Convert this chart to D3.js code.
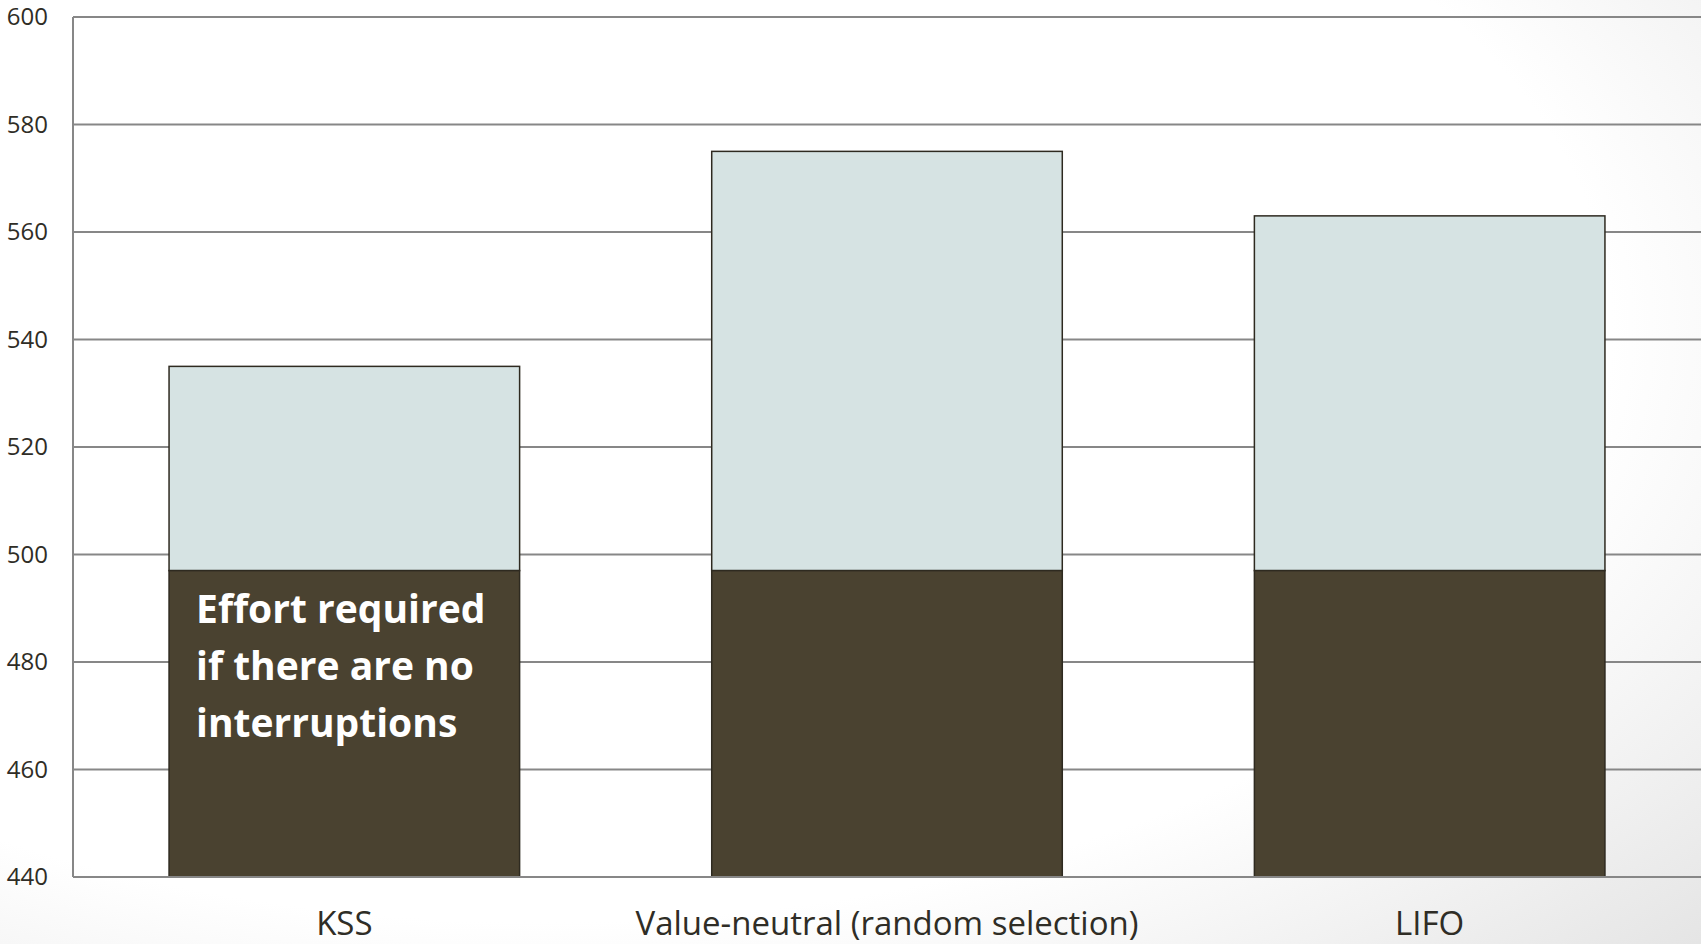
<!DOCTYPE html>
<html>
<head>
<meta charset="utf-8">
<script src="https://cdn.jsdelivr.net/npm/d3@7"></script>
<style>
  html, body { margin: 0; padding: 0; background: #fff; }
  svg { display: block; }
</style>
</head>
<body>
<svg id="chart" width="1701" height="944"></svg>
<script>
// Categories and stacked values (base effort + extra from interruptions)
const categories = ["KSS", "Value-neutral (random selection)", "LIFO"];
const baseEffort = [497, 497, 497];
const totalEffort = [535, 575, 563];
const yTicks = [440, 460, 480, 500, 520, 540, 560, 580, 600];
const annotationLines = ["Effort required", "if there are no", "interruptions"];

const W = 1701, H = 944;
const margin = { top: 17, right: 0, bottom: 67, left: 73 };
const font = "'Open Sans', Lato, sans-serif";

const svg = d3.select("#chart");

// soft slide-style vignette behind the chart
const defs = svg.append("defs");
const grad = defs.append("radialGradient")
  .attr("id", "bg").attr("cx", "32%").attr("cy", "35%").attr("r", "95%");
grad.append("stop").attr("offset", "0%").attr("stop-color", "#ffffff");
grad.append("stop").attr("offset", "66%").attr("stop-color", "#ffffff");
grad.append("stop").attr("offset", "100%").attr("stop-color", "#e4e4e4");
svg.append("rect").attr("width", W).attr("height", H).attr("fill", "url(#bg)");

const x = d3.scaleBand()
  .domain(categories)
  .range([margin.left, W - margin.right])
  .paddingInner(0.354)
  .paddingOuter(0.177);

const y = d3.scaleLinear()
  .domain([440, 600])
  .range([H - margin.bottom, margin.top]);

// horizontal gridlines
svg.append("g")
  .selectAll("line")
  .data(yTicks)
  .join("line")
  .attr("x1", margin.left)
  .attr("x2", W - margin.right)
  .attr("y1", d => y(d))
  .attr("y2", d => y(d))
  .attr("stroke", "#878787")
  .attr("stroke-width", 2);

// vertical axis line
svg.append("line")
  .attr("x1", margin.left).attr("x2", margin.left)
  .attr("y1", y(600)).attr("y2", y(440))
  .attr("stroke", "#878787").attr("stroke-width", 2);

// y tick labels
svg.append("g")
  .selectAll("text")
  .data(yTicks)
  .join("text")
  .attr("x", 48)
  .attr("y", d => y(d))
  .attr("dy", "0.35em")
  .attr("text-anchor", "end")
  .attr("font-family", font)
  .attr("font-size", 24)
  .attr("fill", "#2f2d26")
  .text(d => d);

const rows = categories.map((c, i) => ({ c, base: baseEffort[i], total: totalEffort[i] }));

// upper (interruption) segment
svg.append("g")
  .selectAll("rect")
  .data(rows)
  .join("rect")
  .attr("x", d => x(d.c))
  .attr("width", x.bandwidth())
  .attr("y", d => y(d.total))
  .attr("height", d => y(d.base) - y(d.total))
  .attr("fill", "#d6e3e3")
  .attr("stroke", "#2e2a20")
  .attr("stroke-width", 1.5);

// base segment
svg.append("g")
  .selectAll("rect")
  .data(rows)
  .join("rect")
  .attr("x", d => x(d.c))
  .attr("width", x.bandwidth())
  .attr("y", d => y(d.base))
  .attr("height", d => y(440) - y(d.base))
  .attr("fill", "#4a4230")
  .attr("stroke", "#2e2a20")
  .attr("stroke-width", 1.5);

// redraw baseline over bar bottoms
svg.append("line")
  .attr("x1", margin.left).attr("x2", W - margin.right)
  .attr("y1", y(440)).attr("y2", y(440))
  .attr("stroke", "#878787").attr("stroke-width", 2);

// category labels
svg.append("g")
  .selectAll("text")
  .data(categories)
  .join("text")
  .attr("x", d => x(d) + x.bandwidth() / 2)
  .attr("y", 935)
  .attr("text-anchor", "middle")
  .attr("font-family", font)
  .attr("font-size", 33)
  .attr("fill", "#2f2d26")
  .text(d => d);

// annotation inside the first base segment
const annX = x(categories[0]) + 27;
const ann = svg.append("text")
  .attr("x", annX)
  .attr("y", 623)
  .attr("font-family", font)
  .attr("font-weight", "bold")
  .attr("font-size", 39)
  .attr("fill", "#ffffff");
ann.selectAll("tspan")
  .data(annotationLines)
  .join("tspan")
  .attr("x", annX)
  .attr("dy", (d, i) => i === 0 ? 0 : 57)
  .text(d => d);
</script>
</body>
</html>
